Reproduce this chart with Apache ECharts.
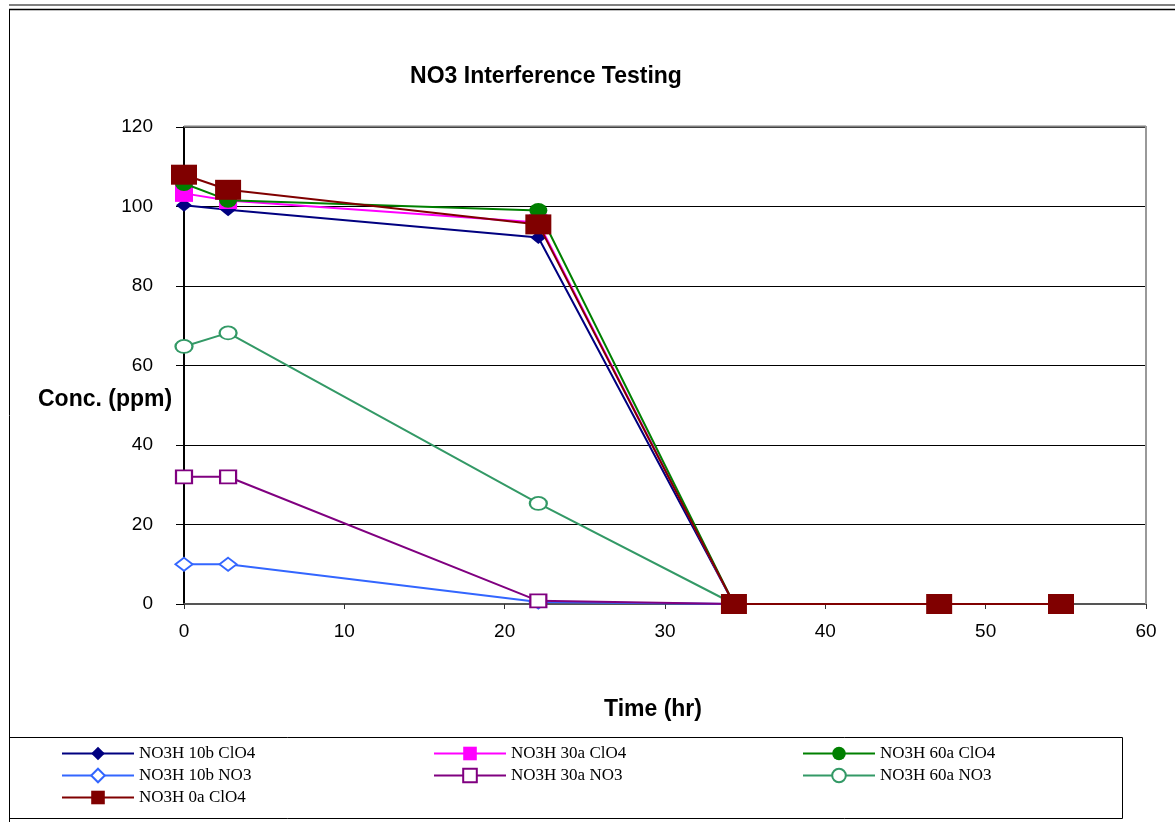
<!DOCTYPE html>
<html>
<head>
<meta charset="utf-8">
<script src="https://cdn.jsdelivr.net/npm/echarts@6/dist/echarts.min.js"></script>
<style>
html,body{margin:0;padding:0;background:#fff;}
#chart{width:1175px;height:822px;}
</style>
</head>
<body>
<div id="chart"></div>
<script>
// ---- data ----
const titleText = 'NO3 Interference Testing';
const xAxisName = 'Time (hr)';
const yAxisName = 'Conc. (ppm)';

const seriesNames = [
  'NO3H 10b ClO4', 'NO3H 30a ClO4', 'NO3H 60a ClO4',
  'NO3H 10b NO3', 'NO3H 30a NO3', 'NO3H 60a NO3',
  'NO3H 0a ClO4'
];

const timesShort = [0, 2.75, 22.1, 34.3];
const timesLong = [0, 2.75, 22.1, 34.3, 47.1, 54.7];

const s10bClO4 = [100.3, 99.2, 92.2, 0];
const s30aClO4 = [103.3, 101.5, 96.0, 0];
const s60aClO4 = [105.8, 101.6, 99.0, 0];
const s10bNO3 = [10.0, 10.0, 0.5, 0];
const s30aNO3 = [32.0, 32.0, 0.8, 0];
const s60aNO3 = [64.8, 68.2, 25.3, 0];
const s0aClO4 = [108.0, 104.2, 95.5, 0, 0, 0];

const xTicks = [0, 10, 20, 30, 40, 50, 60];
const yTicks = [0, 20, 40, 60, 80, 100, 120];

// ---- build ----
function pairs(xs, ys) { return ys.map((v, i) => [xs[i], v]); }

const styles = [
  { color: '#000080', symbol: 'diamond', size: [16, 13], fill: '#000080' },
  { color: '#FF00FF', symbol: 'rect', size: [18, 17], fill: '#FF00FF' },
  { color: '#008000', symbol: 'circle', size: [18, 15], fill: '#008000' },
  { color: '#3366FF', symbol: 'diamond', size: [17, 13], fill: '#ffffff' },
  { color: '#800080', symbol: 'rect', size: [16, 13], fill: '#ffffff' },
  { color: '#339966', symbol: 'circle', size: [17, 13], fill: '#ffffff' },
  { color: '#800000', symbol: 'rect', size: [26, 20], fill: '#800000' }
];
const dataSets = [
  pairs(timesShort, s10bClO4), pairs(timesShort, s30aClO4), pairs(timesShort, s60aClO4),
  pairs(timesShort, s10bNO3), pairs(timesShort, s30aNO3), pairs(timesShort, s60aNO3),
  pairs(timesLong, s0aClO4)
];

const series = seriesNames.map((name, i) => ({
  name: name,
  type: 'line',
  data: dataSets[i],
  symbol: styles[i].symbol,
  symbolSize: styles[i].size,
  showAllSymbol: true,
  z: 2 + i,
  lineStyle: { color: styles[i].color, width: 2 },
  itemStyle: {
    color: styles[i].fill,
    borderColor: styles[i].color,
    borderWidth: styles[i].fill === '#ffffff' ? 2 : 0
  },
  emphasis: { disabled: true },
  animation: false
}));

const legendBase = {
  orient: 'vertical',
  itemWidth: 72,
  itemHeight: 17,
  itemGap: 5,
  textStyle: { fontFamily: 'Liberation Serif', fontSize: 17, color: '#000' },
  selectedMode: false
};

const chart = echarts.init(document.getElementById('chart'), null, { renderer: 'canvas' });
chart.setOption({
  backgroundColor: '#fff',
  animation: false,
  title: {
    text: titleText,
    left: 541, top: 60,
    textAlign: 'center',
    textStyle: { fontFamily: 'Liberation Sans', fontWeight: 'bold', fontSize: 23, color: '#000' }
  },
  grid: { left: 184, right: 29, top: 127, bottom: 218, containLabel: false },
  xAxis: {
    type: 'value', min: 0, max: 60, interval: 10,
    axisLine: { show: true, onZero: false, lineStyle: { color: '#555', width: 2 } },
    axisTick: { show: true, length: 5, lineStyle: { color: '#333' } },
    axisLabel: { margin: 18, fontFamily: 'Liberation Sans', fontSize: 19, color: '#000',
      formatter: v => xTicks.includes(v) ? String(v) : '' },
    splitLine: { show: false }
  },
  yAxis: {
    type: 'value', min: 0, max: 120, interval: 20,
    axisLine: { show: true, lineStyle: { color: '#000', width: 2 } },
    axisTick: { show: true, length: 8, lineStyle: { color: '#000' } },
    axisLabel: { margin: 31, fontFamily: 'Liberation Sans', fontSize: 19, color: '#000',
      formatter: v => yTicks.includes(v) ? String(v) : '' },
    splitLine: { show: true, lineStyle: { color: '#000', width: 1 } }
  },
  legend: [
    Object.assign({}, legendBase, { left: 56, top: 740, data: [seriesNames[0], seriesNames[3], seriesNames[6]] }),
    Object.assign({}, legendBase, { left: 428, top: 740, data: [seriesNames[1], seriesNames[4]] }),
    Object.assign({}, legendBase, { left: 797, top: 740, data: [seriesNames[2], seriesNames[5]] })
  ],
  graphic: [
    { type: 'text', left: 38, top: 388, style: { text: yAxisName, fontFamily: 'Liberation Sans', fontWeight: 'bold', fontSize: 23, fill: '#000' } },
    { type: 'text', left: 604, top: 698, style: { text: xAxisName, fontFamily: 'Liberation Sans', fontWeight: 'bold', fontSize: 23, fill: '#000' } },
    { type: 'line', shape: { x1: 9, y1: 5, x2: 1175, y2: 5 }, style: { stroke: '#808080', lineWidth: 2 } },
    { type: 'line', shape: { x1: 9, y1: 9.5, x2: 1175, y2: 9.5 }, style: { stroke: '#000', lineWidth: 1.5 } },
    { type: 'line', shape: { x1: 9.5, y1: 9, x2: 9.5, y2: 822 }, style: { stroke: '#000', lineWidth: 1 } },
    { type: 'rect', shape: { x: 9.5, y: 737.5, width: 1113, height: 81 }, style: { fill: 'none', stroke: '#000', lineWidth: 1 } },
    { type: 'line', shape: { x1: 184, y1: 126.5, x2: 1146, y2: 126.5 }, style: { stroke: '#808080', lineWidth: 2 }, z: 1 },
    { type: 'line', shape: { x1: 1146, y1: 126, x2: 1146, y2: 604 }, style: { stroke: '#999', lineWidth: 2 }, z: 1 }
  ],
  series: series
});
</script>
</body>
</html>
